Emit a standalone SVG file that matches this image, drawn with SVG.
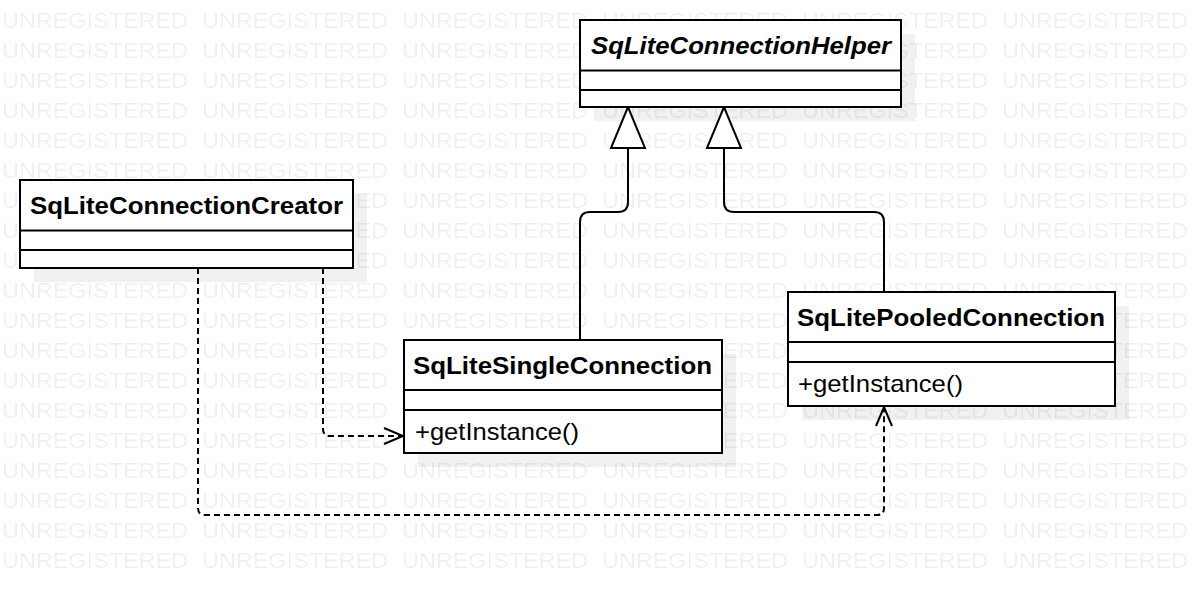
<svg xmlns="http://www.w3.org/2000/svg" xmlns:xlink="http://www.w3.org/1999/xlink" width="1194" height="598" viewBox="0 0 1194 598">
<style>
.wm{font-family:"Liberation Sans",Arial,sans-serif;font-size:22px;fill:#000;fill-opacity:0.065}
.shadow{fill:#000;fill-opacity:0.055}
.box{fill:#fff;stroke:#000;stroke-width:2}
.sep{stroke:#000;stroke-width:2}
.title{font-family:"Liberation Sans",Arial,sans-serif;font-size:24px;font-weight:bold;fill:#000}
.ital{font-style:italic}
.op{font-family:"Liberation Sans",Arial,sans-serif;font-size:24px;fill:#000}
.solid{fill:none;stroke:#000;stroke-width:2}
.dash{fill:none;stroke:#000;stroke-width:2;stroke-dasharray:6 4}
.tri{fill:#fff;stroke:#000;stroke-width:2;stroke-linejoin:miter}
.open{fill:none;stroke:#000;stroke-width:2}
</style>
<defs>
<g id="wmrow">
<text class="wm" x="2" y="0" textLength="186" lengthAdjust="spacingAndGlyphs">UNREGISTERED</text>
<text class="wm" x="202" y="0" textLength="186" lengthAdjust="spacingAndGlyphs">UNREGISTERED</text>
<text class="wm" x="402" y="0" textLength="186" lengthAdjust="spacingAndGlyphs">UNREGISTERED</text>
<text class="wm" x="602" y="0" textLength="186" lengthAdjust="spacingAndGlyphs">UNREGISTERED</text>
<text class="wm" x="802" y="0" textLength="186" lengthAdjust="spacingAndGlyphs">UNREGISTERED</text>
<text class="wm" x="1002" y="0" textLength="186" lengthAdjust="spacingAndGlyphs">UNREGISTERED</text>
</g>
</defs>
<rect x="0" y="0" width="1194" height="598" fill="#fff"/>
<g id="shadows">
<rect class="shadow" x="594" y="34" width="321" height="87"/>
<rect class="shadow" x="34" y="194" width="333" height="88"/>
<rect class="shadow" x="418" y="354" width="318" height="113"/>
<rect class="shadow" x="802" y="306" width="327" height="114"/>
</g>
<g id="watermark">
<use xlink:href="#wmrow" y="-2"/>
<use xlink:href="#wmrow" y="28"/>
<use xlink:href="#wmrow" y="58"/>
<use xlink:href="#wmrow" y="88"/>
<use xlink:href="#wmrow" y="118"/>
<use xlink:href="#wmrow" y="148"/>
<use xlink:href="#wmrow" y="178"/>
<use xlink:href="#wmrow" y="208"/>
<use xlink:href="#wmrow" y="238"/>
<use xlink:href="#wmrow" y="268"/>
<use xlink:href="#wmrow" y="298"/>
<use xlink:href="#wmrow" y="328"/>
<use xlink:href="#wmrow" y="358"/>
<use xlink:href="#wmrow" y="388"/>
<use xlink:href="#wmrow" y="418"/>
<use xlink:href="#wmrow" y="448"/>
<use xlink:href="#wmrow" y="478"/>
<use xlink:href="#wmrow" y="508"/>
<use xlink:href="#wmrow" y="538"/>
<use xlink:href="#wmrow" y="568"/>
</g>
<g id="connectors">
<path class="solid" d="M580,340 V222 Q580,212 590,212 H618 Q628,212 628,202 V148"/>
<polygon class="tri" points="628,107 611,148 645,148"/>
<path class="solid" d="M884,292 V222 Q884,212 874,212 H734 Q724,212 724,202 V148"/>
<polygon class="tri" points="724,107 707,148 741,148"/>
<path class="dash" d="M323,268 V429 Q323,436 330,436 H402"/>
<polyline class="open" points="384,428 403,436 384,444"/>
<path class="dash" d="M198,268 V508 Q198,515 205,515 H877 Q884,515 884,508 V408"/>
<polyline class="open" points="876,426 884,407 892,426"/>
</g>
<g id="SqLiteConnectionHelper">
<rect class="box" x="580" y="20" width="321" height="87"/>
<line class="sep" x1="580" y1="70.5" x2="901" y2="70.5"/>
<line class="sep" x1="580" y1="90" x2="901" y2="90"/>
<text class="title ital" x="591" y="54" textLength="300" lengthAdjust="spacingAndGlyphs">SqLiteConnectionHelper</text>
</g>
<g id="SqLiteConnectionCreator">
<rect class="box" x="20" y="180" width="333" height="88"/>
<line class="sep" x1="20" y1="230.5" x2="353" y2="230.5"/>
<line class="sep" x1="20" y1="250" x2="353" y2="250"/>
<text class="title" x="30" y="214" textLength="313" lengthAdjust="spacingAndGlyphs">SqLiteConnectionCreator</text>
</g>
<g id="SqLiteSingleConnection">
<rect class="box" x="404" y="340" width="318" height="113"/>
<line class="sep" x1="404" y1="390" x2="722" y2="390"/>
<line class="sep" x1="404" y1="410" x2="722" y2="410"/>
<text class="title" x="413" y="374" textLength="299" lengthAdjust="spacingAndGlyphs">SqLiteSingleConnection</text>
<text class="op" x="415" y="440" textLength="164" lengthAdjust="spacingAndGlyphs">+getInstance()</text>
</g>
<g id="SqLitePooledConnection">
<rect class="box" x="788" y="292" width="327" height="114"/>
<line class="sep" x1="788" y1="342" x2="1115" y2="342"/>
<line class="sep" x1="788" y1="362" x2="1115" y2="362"/>
<text class="title" x="797" y="326" textLength="308" lengthAdjust="spacingAndGlyphs">SqLitePooledConnection</text>
<text class="op" x="798" y="392" textLength="165" lengthAdjust="spacingAndGlyphs">+getInstance()</text>
</g>
</svg>
